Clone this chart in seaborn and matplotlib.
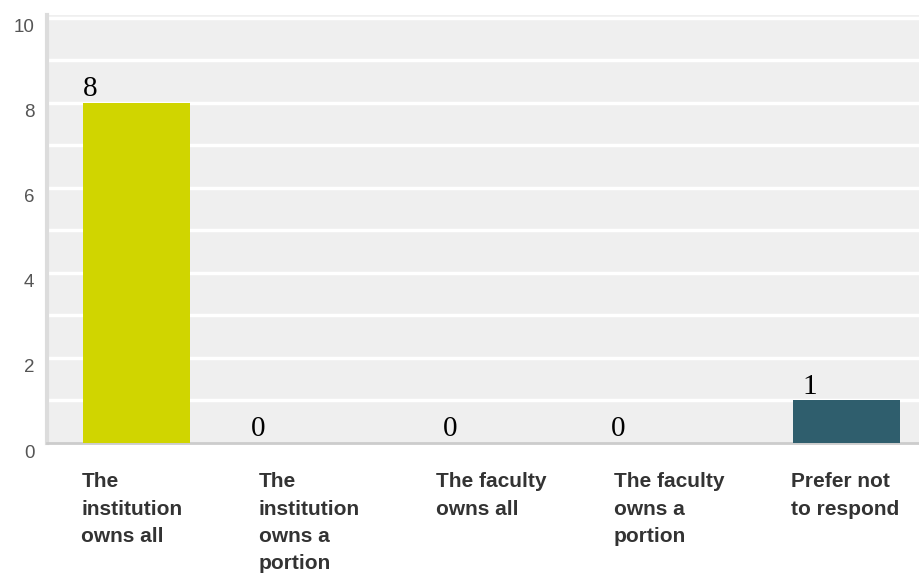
import matplotlib
matplotlib.use("Agg")
import matplotlib.pyplot as plt
import matplotlib.transforms as mtransforms
import seaborn as sns
import pandas as pd

categories = [
    "The institution owns all",
    "The institution owns a portion",
    "The faculty owns all",
    "The faculty owns a portion",
    "Prefer not to respond",
]
tick_texts = [
    "The\ninstitution\nowns all",
    "The\ninstitution\nowns a\nportion",
    "The faculty\nowns all",
    "The faculty\nowns a\nportion",
    "Prefer not\nto respond",
]
counts = [8, 0, 0, 0, 1]
bar_colors = ["#d0d500", "#8aa93a", "#5c8c4e", "#3f7362", "#2f5e6d"]
y_ticks = [0, 2, 4, 6, 8, 10]

df = pd.DataFrame({"category": categories, "count": counts})

sns.set_theme(style="white")
fig = plt.figure(figsize=(9.2, 5.76), dpi=100)
ax = fig.add_axes([47 / 920, 1 - 443 / 576, 1 - 47 / 920, (443 - 15) / 576])
ax.set_facecolor("#efefef")

sns.barplot(data=df, x="category", y="count", hue="category",
            palette=bar_colors, width=0.6, saturation=1, legend=False,
            edgecolor="none", linewidth=0, ax=ax, zorder=3)

ax.set_xlim(-0.504, 4.414)
ax.set_ylim(0, 10.07)

# white horizontal gridlines at every unit
for v in range(1, 11):
    ax.axhline(v, color="white", lw=2.5, zorder=1)

ax.set_yticks(y_ticks)
ax.set_yticklabels([str(t) for t in y_ticks], fontsize=13.5,
                   color="#555555", family="Liberation Sans")
ax.tick_params(axis="y", length=0, pad=9)
shift = mtransforms.ScaledTranslation(0, -8 / 100, fig.dpi_scale_trans)
for lbl in ax.get_yticklabels():
    lbl.set_transform(lbl.get_transform() + shift)

ax.set_xticks([])
ax.set_xlabel("")
ax.set_ylabel("")

for side in ["top", "right"]:
    ax.spines[side].set_visible(False)
ax.spines["left"].set_color("#dcdcdc")
ax.spines["left"].set_linewidth(3)
ax.spines["bottom"].set_color("#cccccc")
ax.spines["bottom"].set_linewidth(2)

# category labels under the bars, left-aligned to each bar
xform = mtransforms.blended_transform_factory(ax.transData, ax.transAxes)
for i, txt in enumerate(tick_texts):
    ax.text(i - 0.31, -0.068, txt, transform=xform, ha="left", va="top",
            fontsize=15, fontweight="bold", color="#333333",
            family="Liberation Sans", linespacing=1.56)

# value labels above the bars
label_dx = [-0.262, -0.315, -0.234, -0.287, -0.206]
for i, v in enumerate(counts):
    ax.text(i + label_dx[i], v + 0.02, str(v), ha="center", va="bottom",
            fontsize=21, family="Liberation Serif", color="black", zorder=4)

fig.savefig("out.png", dpi=100)
